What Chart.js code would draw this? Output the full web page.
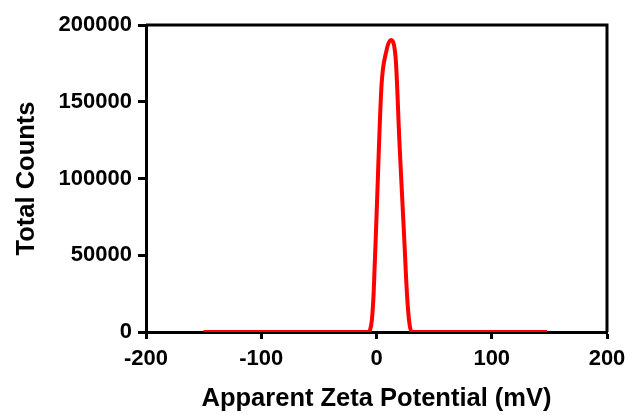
<!DOCTYPE html>
<html>
<head>
<meta charset="utf-8">
<script src="https://cdn.jsdelivr.net/npm/chart.js@4/dist/chart.umd.min.js"></script>
<style>
  html, body { margin: 0; padding: 0; background: #fff; }
  #c { display: block; }
</style>
</head>
<body>
<canvas id="c" width="632" height="415"></canvas>
<script>
// Data
const zeta   = [-150, -7.5, -5.5, -4, -2.5, 0, 4.3, 8.1, 12.3, 16.5, 20, 24, 26.5, 28.5, 30.5, 148];
const counts = [0, 0, 1500, 8000, 25000, 75000, 160000, 181500, 190200, 179500, 122000, 62000, 24000, 6000, 0, 0];
const xTicks = [-200, -100, 0, 100, 200];
const yTicks = [0, 50000, 100000, 150000, 200000];
const xTitle = 'Apparent Zeta Potential (mV)';
const yTitle = 'Total Counts';

const points = zeta.map((x, i) => ({ x: x, y: counts[i] }));
const FONT = 'Arial, "Liberation Sans", sans-serif';

const frame = {
  id: 'frame',
  beforeDatasetsDraw(chart) {
    const { ctx, chartArea: a } = chart;
    ctx.save();
    ctx.strokeStyle = '#000';
    ctx.lineWidth = 3;
    ctx.beginPath();
    ctx.moveTo(a.left, a.top);
    ctx.lineTo(a.right, a.top);
    ctx.lineTo(a.right, a.bottom);
    ctx.stroke();
    ctx.restore();
  }
};

new Chart(document.getElementById('c'), {
  type: 'line',
  data: {
    datasets: [{
      data: points,
      borderColor: '#FF0000',
      borderWidth: 4,
      pointRadius: 0,
      fill: false,
      cubicInterpolationMode: 'monotone'
    }]
  },
  options: {
    responsive: false,
    animation: false,
    devicePixelRatio: 1,
    layout: { padding: { left: 0, right: 25, top: 25, bottom: 0 } },
    plugins: { legend: { display: false }, tooltip: { enabled: false } },
    scales: {
      x: {
        type: 'linear',
        min: -200, max: 200,
        afterBuildTicks(s) { s.ticks = xTicks.map(v => ({ value: v })); },
        afterFit(s) { s.height = 83; s.paddingLeft = 0; s.paddingRight = 0; },
        border: { display: true, color: '#000', width: 3 },
        grid: { display: true, drawOnChartArea: false, drawTicks: true, tickLength: 7, tickWidth: 3, tickColor: '#000' },
        ticks: { color: '#000', padding: 7, maxRotation: 0, font: { family: FONT, size: 22, weight: 'bold' } },
        title: { display: true, text: xTitle, color: '#000', padding: { top: 1, bottom: 1 }, font: { family: FONT, size: 25.5, weight: 'bold' } }
      },
      y: {
        type: 'linear',
        min: 0, max: 200000,
        afterBuildTicks(s) { s.ticks = yTicks.map(v => ({ value: v })); },
        afterFit(s) { s.width = 146; },
        border: { display: true, color: '#000', width: 3 },
        grid: { display: true, drawOnChartArea: false, drawTicks: true, tickLength: 8, tickWidth: 3, tickColor: '#000' },
        ticks: { color: '#000', padding: 6, callback: v => String(v), font: { family: FONT, size: 22, weight: 'bold' } },
        title: { display: true, text: yTitle, color: '#000', padding: { top: 12, bottom: 0 }, font: { family: FONT, size: 25.5, weight: 'bold' } }
      }
    }
  },
  plugins: [frame]
});
</script>
</body>
</html>
